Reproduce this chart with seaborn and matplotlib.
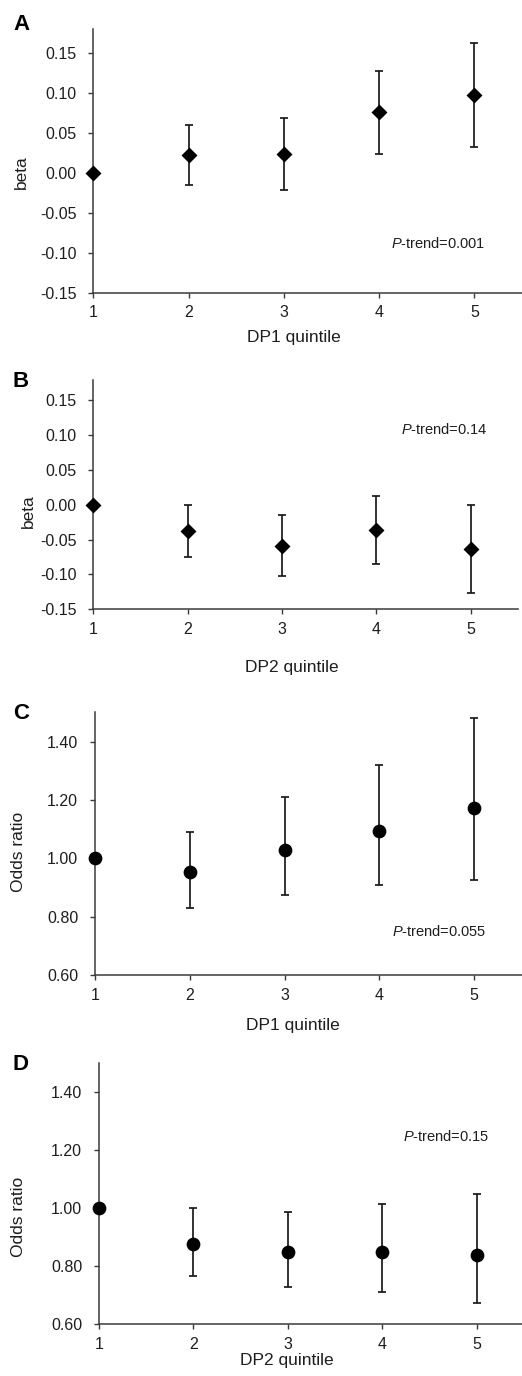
import numpy as np
import pandas as pd
import matplotlib
matplotlib.use("Agg")
import matplotlib.pyplot as plt
import seaborn as sns
from matplotlib.ticker import FormatStrFormatter, FixedLocator

# ---------------- data ----------------
quintiles = [1, 2, 3, 4, 5]

a_est = [0.000, 0.022, 0.023, 0.076, 0.097]
a_lo = [None, -0.015, -0.021, 0.024, 0.032]
a_hi = [None, 0.060, 0.068, 0.127, 0.162]

b_est = [0.000, -0.038, -0.059, -0.036, -0.063]
b_lo = [None, -0.075, -0.102, -0.085, -0.127]
b_hi = [None, 0.000, -0.015, 0.013, 0.000]

c_est = [1.000, 0.952, 1.028, 1.094, 1.172]
c_lo = [None, 0.831, 0.876, 0.909, 0.927]
c_hi = [None, 1.089, 1.210, 1.318, 1.481]

d_est = [1.000, 0.876, 0.847, 0.849, 0.838]
d_lo = [None, 0.767, 0.729, 0.712, 0.672]
d_hi = [None, 1.000, 0.986, 1.015, 1.050]

beta_ticks = [-0.15, -0.10, -0.05, 0.00, 0.05, 0.10, 0.15]
or_ticks = [0.60, 0.80, 1.00, 1.20, 1.40]

panel_letters = ["A", "B", "C", "D"]
x_labels = ["DP1 quintile", "DP2 quintile", "DP1 quintile", "DP2 quintile"]
y_labels = ["beta", "beta", "Odds ratio", "Odds ratio"]
p_texts = ["0.001", "0.14", "0.055", "0.15"]

# ---------------- style ----------------
sns.set_style("ticks")
plt.rcParams["font.family"] = ["Liberation Sans", "DejaVu Sans"]
plt.rcParams["mathtext.fontset"] = "custom"
plt.rcParams["mathtext.rm"] = "Liberation Sans"
plt.rcParams["mathtext.it"] = "Liberation Sans:italic"

W, H = 522, 1376
fig = plt.figure(figsize=(W / 100, H / 100), dpi=100)

spine_col = "#3a3a3a"
text_col = "#1e1e1e"

# axes boxes in pixels: left, top, right, bottom
boxes = [
    (93.3, 29.0, 522.0, 292.7),
    (93.3, 380.0, 518.0, 609.3),
    (95.0, 712.3, 521.6, 975.3),
    (99.0, 1063.3, 522.0, 1324.0),
]
xmaxs = [5.5, 5.5, 5.5, 5.48]
ylims = [(-0.15, 0.18), (-0.15, 0.179), (0.60, 1.50), (0.60, 1.50)]
markers = ["D", "D", "o", "o"]
msizes = [66, 66, 98, 98]
ptext_pos = [(4.12, -0.088), (4.26, 0.108), (4.13, 0.751), (4.22, 1.247)]
xlabel_coords = [(0.467, -0.142), (0.468, -0.222), (0.463, -0.163), (0.444, -0.112)]
ylabel_coords = [(-0.150, 0.459), (-0.135, 0.429), (-0.162, 0.47), (-0.173, 0.412)]
letter_pos = [(13, 25), (12.7, 381.7), (12.7, 713.3), (12.7, 1065)]

series = [(a_est, a_lo, a_hi), (b_est, b_lo, b_hi), (c_est, c_lo, c_hi), (d_est, d_lo, d_hi)]

for i, (est, lo, hi) in enumerate(series):
    l, t, r, b = boxes[i]
    ax = fig.add_axes([l / W, 1 - b / H, (r - l) / W, (b - t) / H])
    df = pd.DataFrame({"q": quintiles, "est": est, "lo": lo, "hi": hi})
    ci = df.dropna().astype(float)
    ax.errorbar(ci["q"], ci["est"],
                yerr=[ci["est"] - ci["lo"], ci["hi"] - ci["est"]],
                fmt="none", ecolor="#1a1a1a", elinewidth=1.25, capsize=3.2,
                capthick=1.25, zorder=2)
    sns.scatterplot(data=df, x="q", y="est", marker=markers[i], s=msizes[i],
                    color="black", edgecolor="black", linewidth=0, ax=ax,
                    zorder=3, clip_on=False)
    ax.set_xlim(1, xmaxs[i])
    ax.set_ylim(*ylims[i])
    ax.xaxis.set_major_locator(FixedLocator(quintiles))
    if i < 2:
        ax.yaxis.set_major_locator(FixedLocator(beta_ticks))
    else:
        ax.yaxis.set_major_locator(FixedLocator(or_ticks))
    ax.yaxis.set_major_formatter(FormatStrFormatter("%.2f"))
    ax.set_xticklabels([str(q) for q in quintiles])
    for s in ["top", "right"]:
        ax.spines[s].set_visible(False)
    for s in ["left", "bottom"]:
        ax.spines[s].set_color(spine_col)
        ax.spines[s].set_linewidth(1.1)
    ax.tick_params(axis="both", direction="out", length=3.6, width=1.0,
                   color=spine_col, labelsize=11.5, labelcolor=text_col)
    ax.tick_params(axis="y", pad=8.5)
    ax.tick_params(axis="x", pad=5.5)
    ax.set_xlabel(x_labels[i], fontsize=12.5, color=text_col)
    ax.set_ylabel(y_labels[i], fontsize=12.5, color=text_col)
    ax.xaxis.set_label_coords(*xlabel_coords[i])
    ax.yaxis.set_label_coords(*ylabel_coords[i])
    ax.text(ptext_pos[i][0], ptext_pos[i][1], r"$\it{P}$-trend=" + p_texts[i],
            ha="left", va="center", fontsize=10.5, color=text_col)
    fig.text(letter_pos[i][0] / W, 1 - letter_pos[i][1] / H, panel_letters[i],
             ha="left", va="center", fontsize=16, fontweight="bold", color="black")

fig.savefig("out.png", dpi=100)
